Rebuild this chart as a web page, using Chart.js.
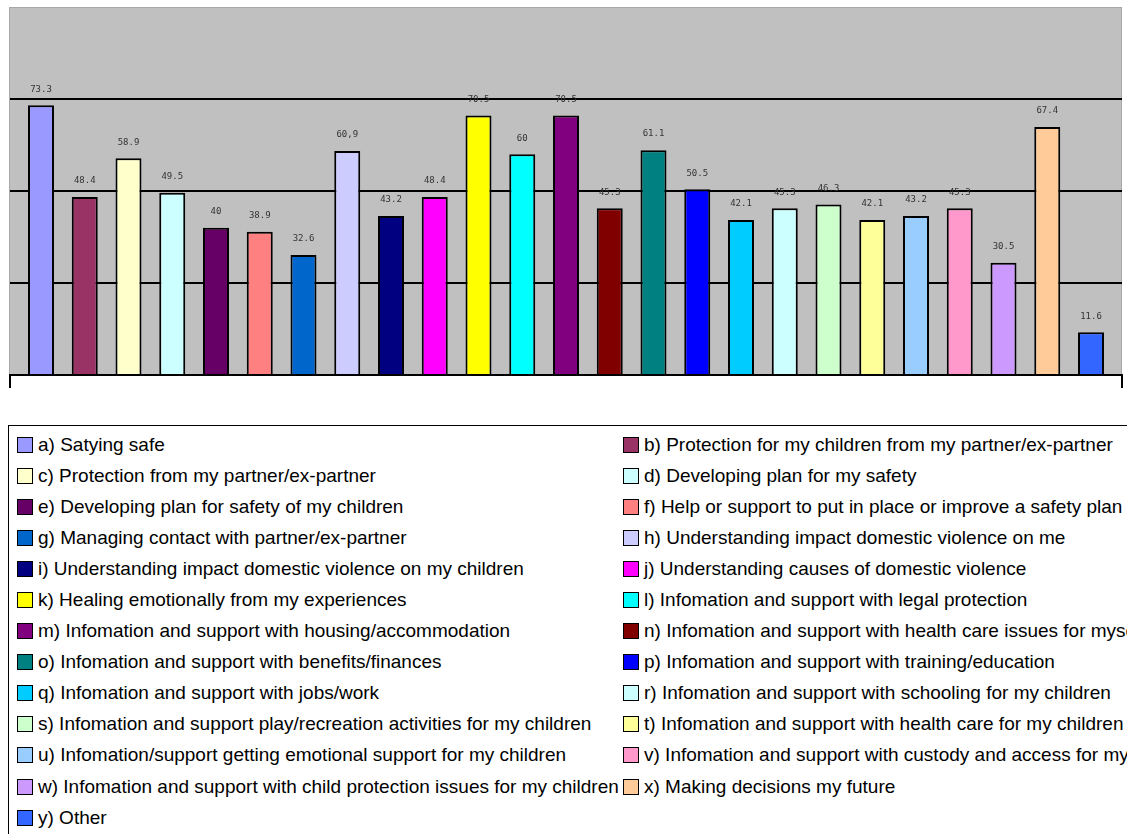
<!DOCTYPE html>
<html>
<head>
<meta charset="utf-8">
<script src="https://cdn.jsdelivr.net/npm/chart.js@4.4.1/dist/chart.umd.min.js"></script>
<style>
  html, body { margin: 0; padding: 0; background: #fff; }
  body { width: 1127px; height: 834px; overflow: hidden; position: relative; }
  #chart { position: absolute; left: 0; top: 0; }
  #legend {
    position: absolute; left: 8px; top: 425px; width: 1300px; height: 500px;
    border: 1px solid #000; box-sizing: border-box;
  }
  #legend .grid {
    display: grid; grid-template-columns: 606px 600px; grid-auto-rows: 31.1px;
    padding: 3px 0 0 8px;
  }
  #legend .item {
    display: flex; align-items: center; white-space: nowrap;
    font-family: "Liberation Sans", Arial, sans-serif; font-size: 19px; color: #000;
  }
  #legend .box {
    width: 14px; height: 14px; border: 1.5px solid #000; margin-right: 5px; flex: none;
  }
</style>
</head>
<body>
<canvas id="chart" width="1127" height="400"></canvas>
<div id="legend"><div class="grid"></div></div>
<script>
var categories = [
  "a) Satying safe",
  "b) Protection for my children from my partner/ex-partner",
  "c) Protection from my partner/ex-partner",
  "d) Developing plan for my safety",
  "e) Developing plan for safety of my children",
  "f) Help or support to put in place or improve a safety plan",
  "g) Managing contact with partner/ex-partner",
  "h) Understanding impact domestic violence on me",
  "i) Understanding impact domestic violence on my children",
  "j) Understanding causes of domestic violence",
  "k) Healing emotionally from my experiences",
  "l) Infomation and support with legal protection",
  "m) Infomation and support with housing/accommodation",
  "n) Infomation and support with health care issues for myself",
  "o) Infomation and support with benefits/finances",
  "p) Infomation and support with training/education",
  "q) Infomation and support with jobs/work",
  "r) Infomation and support with schooling for my children",
  "s) Infomation and support play/recreation activities for my children",
  "t) Infomation and support with health care for my children",
  "u) Infomation/support getting emotional support for my children",
  "v) Infomation and support with custody and access for my children",
  "w) Infomation and support with child protection issues for my children",
  "x) Making decisions my future",
  "y) Other"
];
var values = [73.3, 48.4, 58.9, 49.5, 40, 38.9, 32.6, 60.9, 43.2, 48.4, 70.5, 60, 70.5,
              45.3, 61.1, 50.5, 42.1, 45.3, 46.3, 42.1, 43.2, 45.3, 30.5, 67.4, 11.6];
var valueLabels = ["73.3", "48.4", "58.9", "49.5", "40", "38.9", "32.6", "60,9", "43.2", "48.4",
                   "70.5", "60", "70.5", "45.3", "61.1", "50.5", "42.1", "45.3", "46.3", "42.1",
                   "43.2", "45.3", "30.5", "67.4", "11.6"];
var colors = ["#9999FF", "#993366", "#FFFFCC", "#CCFFFF", "#660066", "#FF8080", "#0066CC",
              "#CCCCFF", "#000080", "#FF00FF", "#FFFF00", "#00FFFF", "#800080", "#800000",
              "#008080", "#0000FF", "#00CCFF", "#CCFFFF", "#CCFFCC", "#FFFF99", "#99CCFF",
              "#FF99CC", "#CC99FF", "#FFCC99", "#3366FF"];

var datasets = [];
for (var i = 0; i < categories.length; i++) {
  datasets.push({
    label: categories[i],
    data: [values[i]],
    backgroundColor: colors[i],
    borderColor: "#000",
    borderWidth: 2
  });
}

// gray plot background
var plotBg = {
  id: "plotBg",
  beforeDraw: function(chart) {
    var a = chart.chartArea, ctx = chart.ctx;
    ctx.save();
    ctx.fillStyle = "#c0c0c0";
    ctx.fillRect(a.left - 1, a.top, a.right - a.left + 1, a.bottom - a.top);
    ctx.strokeStyle = "#a8a8a8";
    ctx.lineWidth = 1;
    ctx.strokeRect(a.left - 0.5, a.top + 0.5, a.right - a.left, a.bottom - a.top);
    ctx.restore();
  }
};

// value labels above each bar
var barLabels = {
  id: "barLabels",
  afterDatasetsDraw: function(chart) {
    var ctx = chart.ctx;
    ctx.save();
    ctx.font = "9px 'DejaVu Sans Mono', monospace";
    ctx.fillStyle = "#333";
    ctx.textAlign = "center";
    ctx.textBaseline = "middle";
    chart.data.datasets.forEach(function(ds, i) {
      var bar = chart.getDatasetMeta(i).data[0];
      ctx.fillText(valueLabels[i], bar.x, bar.y - 16);
    });
    ctx.restore();
  }
};

var chart = new Chart(document.getElementById("chart"), {
  type: "bar",
  data: { labels: [""], datasets: datasets },
  options: {
    responsive: false,
    animation: false,
    layout: { padding: { left: 10, right: 5, top: 7, bottom: 12 } },
    datasets: { bar: { barPercentage: 0.594, categoryPercentage: 0.9836 } },
    plugins: { legend: { display: false }, tooltip: { enabled: false } },
    scales: {
      x: {
        ticks: { display: false },
        grid: { drawOnChartArea: false, drawTicks: true, tickLength: 13, color: "#000", lineWidth: 2 },
        border: { display: true, color: "#000", width: 2 }
      },
      y: {
        min: 0, max: 100,
        ticks: { display: false, stepSize: 25 },
        border: { display: false },
        grid: {
          drawTicks: false,
          color: function(c) {
            if (c.tick.value === 100) return "#a8a8a8";
            if (c.tick.value === 0) return "rgba(0,0,0,0)";
            return "#000";
          },
          lineWidth: function(c) { return c.tick.value === 100 ? 1 : 2; }
        }
      }
    }
  },
  plugins: [plotBg, barLabels]
});

// two-column legend built from the chart's datasets
var grid = document.querySelector("#legend .grid");
chart.data.datasets.forEach(function(ds) {
  var item = document.createElement("div");
  item.className = "item";
  var box = document.createElement("span");
  box.className = "box";
  box.style.background = ds.backgroundColor;
  var txt = document.createElement("span");
  txt.textContent = ds.label;
  item.appendChild(box);
  item.appendChild(txt);
  grid.appendChild(item);
});
</script>
</body>
</html>
